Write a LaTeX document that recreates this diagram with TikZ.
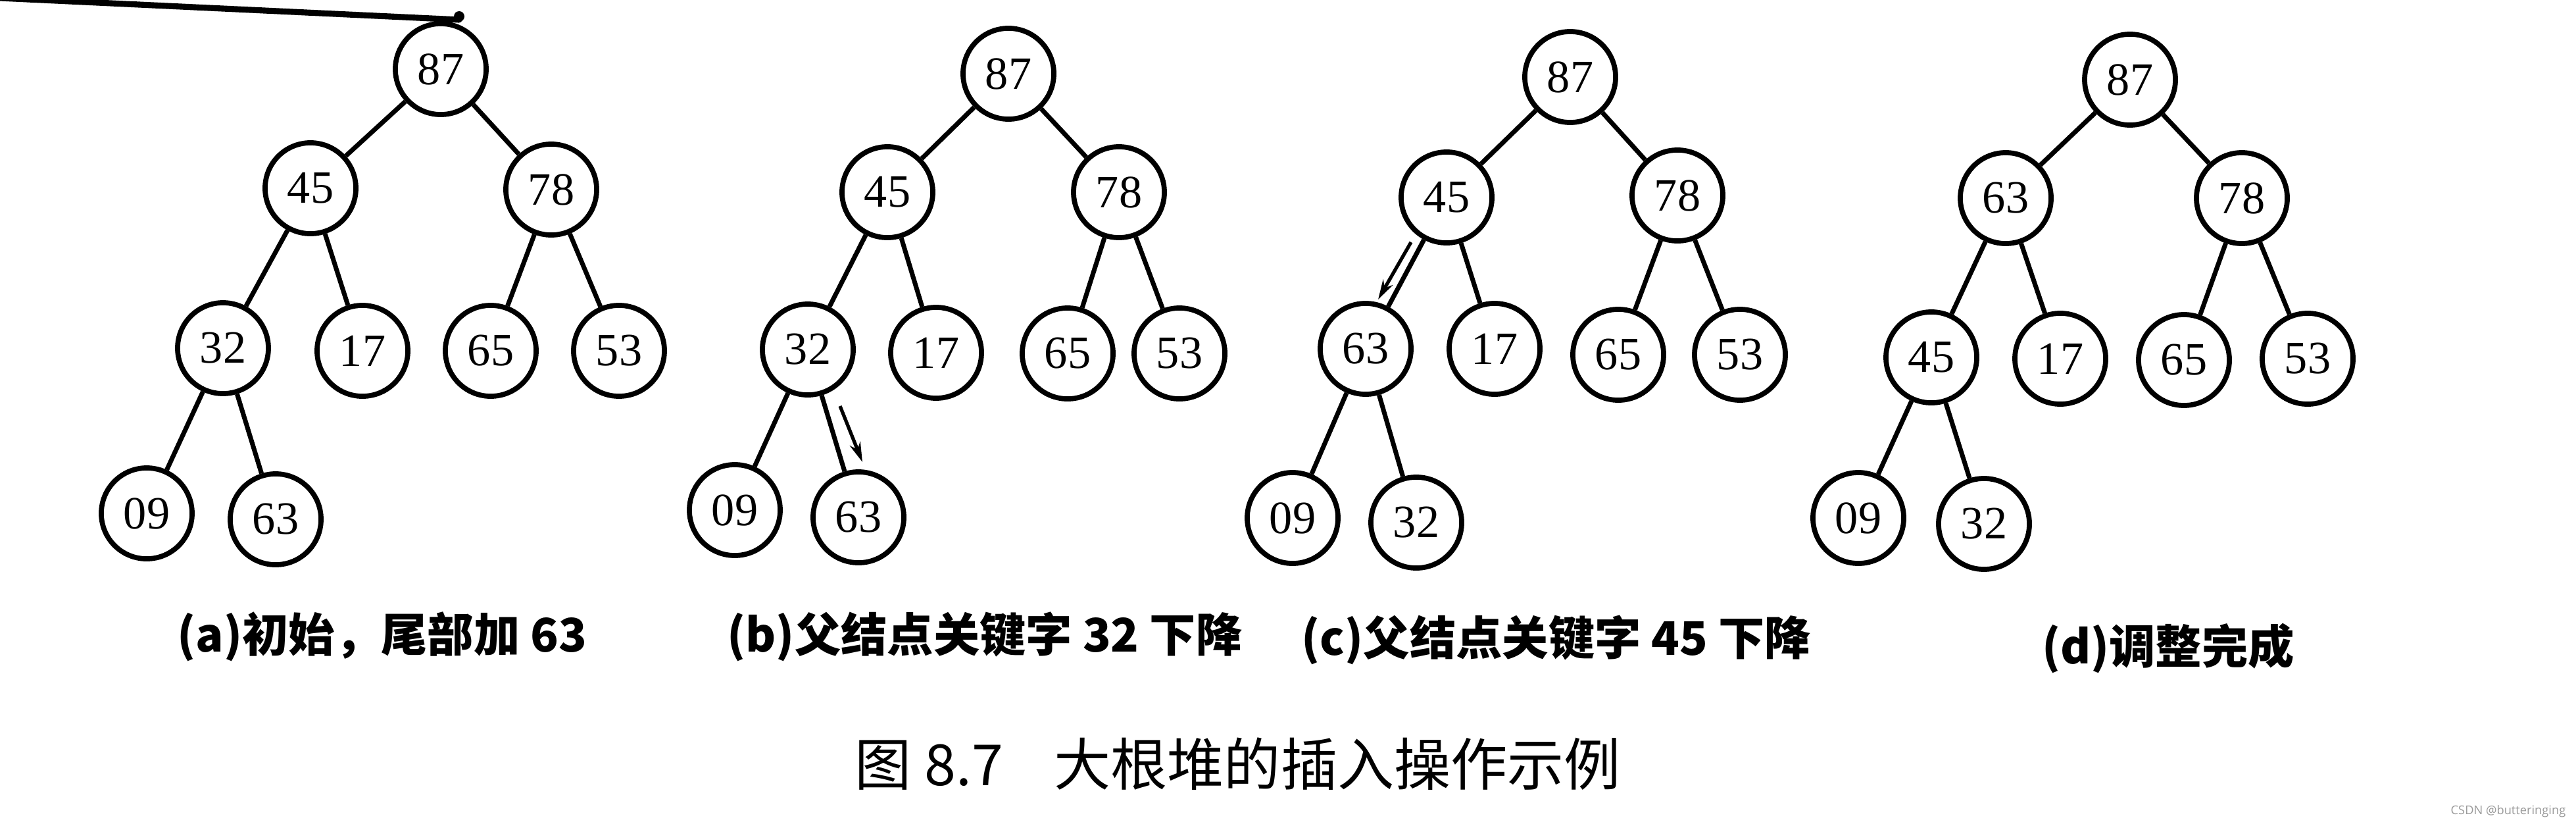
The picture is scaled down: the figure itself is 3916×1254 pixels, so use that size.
\documentclass[tikz,border=0pt]{standalone}
\usepackage{fontspec}
\setmainfont{Liberation Serif}
\newfontfamily\cjk{Noto Sans CJK SC}
\newfontfamily\wmfont{Open Sans}
\usetikzlibrary{arrows.meta}
\tikzset{
  hn/.style={circle, draw, line width=2.2pt, minimum size=1.38cm, inner sep=0pt,
    font=\fontsize{20}{20}\selectfont},
  edge/.style={line width=2pt},
  mv/.style={line width=1.5pt, -{Stealth[length=0.3cm,width=0.17cm]}},
  sub/.style={font=\cjk\bfseries\fontsize{20}{21}\selectfont, inner sep=0pt},
  maincap/.style={font=\cjk\fontsize{24.5}{26}\selectfont, inner sep=0pt},
  wm/.style={font=\wmfont\fontsize{5.2}{6}\selectfont, text=black!40, inner sep=0pt},
  stroke/.style={line width=2.6pt, line cap=round}
}
\begin{document}
\begin{tikzpicture}[x=0.01cm,y=-0.01cm]
\useasboundingbox (0,0) rectangle (3916,1254);

% stray pen stroke at the top left
\coordinate (s0) at (0,-3);
\coordinate (s1) at (698,30);
\draw[stroke] (s0) -- (s1);
\fill (s1) ++(0,-5) circle (0.08cm);

% (a)
\node[hn] (a87) at (670,105) {87};
\node[hn] (a45) at (472,286) {45};
\node[hn] (a78) at (838,288) {78};
\node[hn] (a32) at (339,529) {32};
\node[hn] (a17) at (551,533) {17};
\node[hn] (a65) at (746,533) {65};
\node[hn] (a53) at (941,533) {53};
\node[hn] (a09) at (223,780) {09};
\node[hn] (a63) at (419,789) {63};
\foreach \p/\c in {87/45,87/78,45/32,45/17,78/65,78/53,32/09,32/63}
  \draw[edge] (a\p) -- (a\c);

% (b)
\node[hn] (b87) at (1533,112) {87};
\node[hn] (b45) at (1349,292) {45};
\node[hn] (b78) at (1701,292) {78};
\node[hn] (b32) at (1228,531) {32};
\node[hn] (b17) at (1423,536) {17};
\node[hn] (b65) at (1623,537) {65};
\node[hn] (b53) at (1793,537) {53};
\node[hn] (b09) at (1117,775) {09};
\node[hn] (b63) at (1305,786) {63};
\foreach \p/\c in {87/45,87/78,45/32,45/17,78/65,78/53,32/09,32/63}
  \draw[edge] (b\p) -- (b\c);
\coordinate (bm0) at (1277,617);
\coordinate (bm1) at (1311,702);
\draw[mv] (bm0) -- (bm1);

% (c)
\node[hn] (c87) at (2387,117) {87};
\node[hn] (c45) at (2199,300) {45};
\node[hn] (c78) at (2550,297) {78};
\node[hn] (c63) at (2076,530) {63};
\node[hn] (c17) at (2272,530) {17};
\node[hn] (c65) at (2460,539) {65};
\node[hn] (c53) at (2645,539) {53};
\node[hn] (c09) at (1965,787) {09};
\node[hn] (c32) at (2153,794) {32};
\foreach \p/\c in {87/45,87/78,45/63,45/17,78/65,78/53,63/09,63/32}
  \draw[edge] (c\p) -- (c\c);
\coordinate (cm0) at (2145,368);
\coordinate (cm1) at (2095,455);
\draw[mv] (cm0) -- (cm1);

% (d)
\node[hn] (d87) at (3238,121) {87};
\node[hn] (d63) at (3049,301) {63};
\node[hn] (d78) at (3408,301) {78};
\node[hn] (d45) at (2936,543) {45};
\node[hn] (d17) at (3132,545) {17};
\node[hn] (d65) at (3320,547) {65};
\node[hn] (d53) at (3508,545) {53};
\node[hn] (d09) at (2825,787) {09};
\node[hn] (d32) at (3016,796) {32};
\foreach \p/\c in {87/63,87/78,63/45,63/17,78/65,78/53,45/09,45/32}
  \draw[edge] (d\p) -- (d\c);

% captions
\node[sub] (capa) at (581,967) {(a)初始，尾部加 63};
\node[sub] (capb) at (1497,967) {(b)父结点关键字 32 下降};
\node[sub] (capc) at (2366,972) {(c)父结点关键字 45 下降};
\node[sub] (capd) at (3296,985) {(d)调整完成};
\node[maincap] (title) at (1882,1161) {图 8.7\hspace{0.9em}大根堆的插入操作示例};

\node[wm, anchor=east] (mark) at (3901,1233) {CSDN @butteringing};
\end{tikzpicture}
\end{document}
